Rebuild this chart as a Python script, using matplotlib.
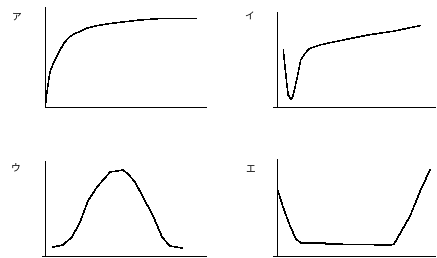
import matplotlib.pyplot as plt

plt.rcParams['font.family'] = ['Noto Sans CJK JP', 'DejaVu Sans']

W, H = 437, 258

# パネルごとの曲線 (x: 横軸に沿った 0-100, y: 縦軸に沿った 0-100)
a_x = [0.4, 1.0, 2.0, 3.1, 5.2, 7.3, 9.3, 12.4, 15.5, 18.6, 21.7, 25.9, 32.1, 38.3, 44.5, 59, 73.5, 94.2]
a_y = [3.7, 12, 23.7, 35.3, 43.7, 50.3, 57, 65.3, 70.3, 73.7, 75.3, 78.7, 81.3, 83, 84.3, 87, 88.7, 88.7]

i_x = [6.4, 7.4, 8.5, 9.4, 10.9, 12.2, 14.6, 17.1, 19.8, 22.8, 29, 35.2, 58.6, 75.1, 90.6]
i_y = [60, 42.4, 24.9, 12.6, 8.1, 10.8, 28.4, 49.5, 56.5, 61.8, 65.3, 67.7, 75.8, 80, 85.6]

u_x = [6.7, 12.8, 18.3, 23.2, 28, 33.5, 41.5, 45.7, 49.4, 52.4, 56.7, 61.6, 67.7, 73.2, 78, 85.4]
u_y = [9.5, 11.6, 20, 35.8, 57.9, 72.6, 88.4, 89.5, 90.5, 86.3, 77.9, 62.1, 42.1, 20, 10.5, 8.4]

e_x = [3.1, 6.2, 10.5, 14.2, 17.3, 32.1, 32.7, 72.8, 74.7, 79, 84.6, 91.4, 96.9]
e_y = [67, 50.5, 30.9, 17.5, 13.4, 13.4, 12.4, 11.3, 12.4, 24.7, 41.2, 69.1, 88.7]

labels = ['ア', 'イ', 'ウ', 'エ']
curves = [(a_x, a_y), (i_x, i_y), (u_x, u_y), (e_x, e_y)]

# 配置 (ピクセル): 軸の左端, 右端, 上端, 下端, 縦軸の位置, ラベル位置
boxes = [(45, 206, 7, 107, 45, (17, 17)),
         (273, 435, 12, 107, 277, (249, 16)),
         (42, 206, 161, 256, 45, (16, 167)),
         (273, 435, 159, 256, 277, (250, 169))]

fig = plt.figure(figsize=(W / 100, H / 100), dpi=100)

for (x0, x1, yt, yb, yax, (lx, ly)), (xs, ys), lab in zip(boxes, curves, labels):
    ax = fig.add_axes([x0 / W, (H - yb) / H, (x1 - x0) / W, (yb - yt) / H])
    ax.set_xlim(0, 100)
    ax.set_ylim(0, 100)
    ax.plot(xs, ys, color='black', lw=0.35, antialiased=False)
    for s in ['top', 'right']:
        ax.spines[s].set_visible(False)
    ax.spines['left'].set_position(('axes', (yax - x0) / (x1 - x0)))
    for s in ['left', 'bottom']:
        ax.spines[s].set_linewidth(0.72)
        ax.spines[s].set_antialiased(False)
    ax.set_xticks([])
    ax.set_yticks([])
    ax.patch.set_visible(False)
    fig.text(lx / W, 1 - ly / H, lab, fontsize=7, ha='center', va='center')

plt.savefig('out.png', dpi=100)
plt.close()
